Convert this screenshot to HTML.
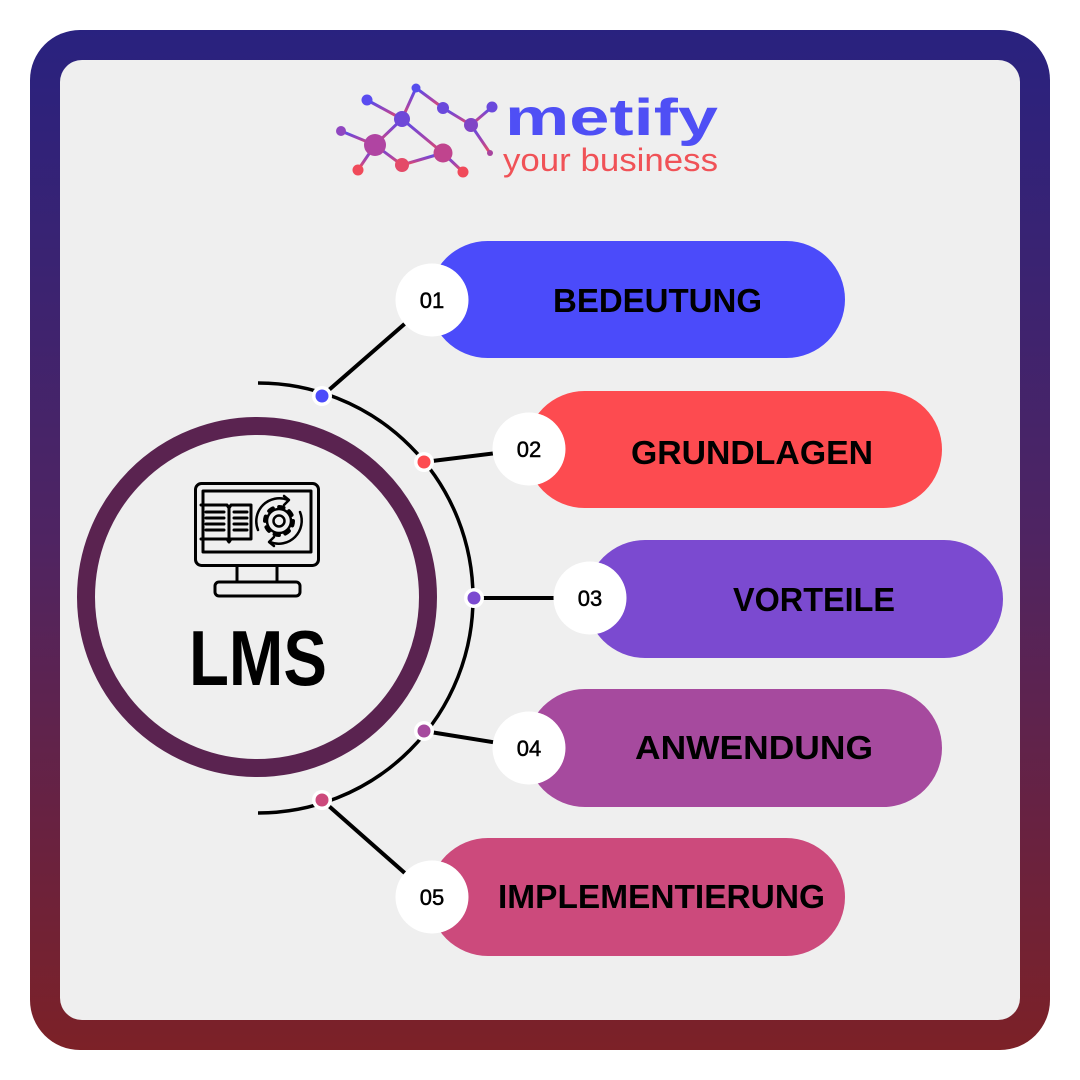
<!DOCTYPE html>
<html><head><meta charset="utf-8"><style>
html,body{margin:0;padding:0;background:#fff;}
svg{display:block;}
</style></head><body>
<svg width="1080" height="1080" viewBox="0 0 1080 1080" xmlns="http://www.w3.org/2000/svg">
<defs>
<linearGradient id="frame" x1="0" y1="0" x2="0" y2="1">
<stop offset="0" stop-color="#29227f"/>
<stop offset="0.5" stop-color="#4f2462"/>
<stop offset="1" stop-color="#7c2127"/>
</linearGradient>
<linearGradient id="logo" x1="0" y1="0" x2="0" y2="1">
<stop offset="0" stop-color="#4d4cf3"/>
<stop offset="0.55" stop-color="#a044b0"/>
<stop offset="1" stop-color="#f04b5a"/>
</linearGradient>
</defs>
<rect x="30" y="30" width="1020" height="1020" rx="50" fill="url(#frame)"/>
<rect x="60" y="60" width="960" height="960" rx="22" fill="#efefef"/>

<!-- logo network -->
<g stroke="url(#logo)" stroke-width="3" fill="none" stroke-linecap="round">
<line x1="367" y1="100" x2="402" y2="119"/>
<line x1="416" y1="88" x2="402" y2="119"/>
<line x1="416" y1="88" x2="443" y2="108"/>
<line x1="402" y1="119" x2="375" y2="145"/>
<line x1="402" y1="119" x2="443" y2="153"/>
<line x1="443" y1="108" x2="443" y2="153"/>
<line x1="443" y1="108" x2="471" y2="125"/>
<line x1="471" y1="125" x2="492" y2="107"/>
<line x1="471" y1="125" x2="490" y2="153"/>
<line x1="341" y1="131" x2="375" y2="145"/>
<line x1="375" y1="145" x2="402" y2="165"/>
<line x1="402" y1="165" x2="443" y2="153"/>
<line x1="443" y1="153" x2="463" y2="172"/>
<line x1="375" y1="145" x2="358" y2="170"/>
</g>
<g>
<circle cx="367" cy="100" r="5.5" fill="#5a4cf0"/>
<circle cx="416" cy="88" r="4.5" fill="#564ded"/>
<circle cx="402" cy="119" r="8" fill="#6e48d8"/>
<circle cx="443" cy="108" r="6" fill="#6a49dc"/>
<circle cx="492" cy="107" r="5.5" fill="#6a49dc"/>
<circle cx="471" cy="125" r="7" fill="#8045c6"/>
<circle cx="490" cy="153" r="3" fill="#a8449e"/>
<circle cx="341" cy="131" r="5" fill="#9046c0"/>
<circle cx="375" cy="145" r="11" fill="#b044a2"/>
<circle cx="443" cy="153" r="9.5" fill="#c0448e"/>
<circle cx="402" cy="165" r="7" fill="#e44a68"/>
<circle cx="358" cy="170" r="5.5" fill="#f04a5a"/>
<circle cx="463" cy="172" r="5.5" fill="#f04a5a"/>
</g>
<text x="505" y="135" font-family="Liberation Sans, sans-serif" font-weight="bold" font-size="52" fill="#4f4ff5" textLength="213" lengthAdjust="spacingAndGlyphs">metify</text>
<text x="503" y="171" font-family="Liberation Sans, sans-serif" font-size="32" fill="#f05257" textLength="215" lengthAdjust="spacingAndGlyphs">your business</text>

<!-- big ring -->
<circle cx="257" cy="597" r="171" fill="none" stroke="#5a2350" stroke-width="18"/>

<!-- arc -->
<path d="M258 383 A215 215 0 0 1 258 813" fill="none" stroke="#000" stroke-width="3.5"/>

<!-- connectors -->
<g stroke="#000" stroke-width="4">
<line x1="322" y1="396" x2="432" y2="300"/>
<line x1="424" y1="462" x2="529" y2="449"/>
<line x1="474" y1="598" x2="590" y2="598"/>
<line x1="424" y1="731" x2="529" y2="748"/>
<line x1="322" y1="800" x2="432" y2="897"/>
</g>

<!-- pills -->
<rect x="429" y="241" width="416" height="117" rx="58.5" fill="#4b4bfa"/>
<rect x="526" y="391" width="416" height="117" rx="58.5" fill="#fd4b50"/>
<rect x="586" y="540" width="417" height="118" rx="59" fill="#7b4ad0"/>
<rect x="526" y="689" width="416" height="118" rx="59" fill="#a64a9e"/>
<rect x="429" y="838" width="416" height="118" rx="59" fill="#cc4a7c"/>

<!-- number circles -->
<g fill="#fff">
<circle cx="432" cy="300" r="36.5"/>
<circle cx="529" cy="449" r="36.5"/>
<circle cx="590" cy="598" r="36.5"/>
<circle cx="529" cy="748" r="36.5"/>
<circle cx="432" cy="897" r="36.5"/>
</g>
<g font-family="Liberation Sans, sans-serif" font-size="22" fill="#000" text-anchor="middle" stroke="#000" stroke-width="0.5">
<text x="432" y="308">01</text>
<text x="529" y="457">02</text>
<text x="590" y="606">03</text>
<text x="529" y="756">04</text>
<text x="432" y="905">05</text>
</g>

<!-- dots -->
<g fill="#fff">
<circle cx="322" cy="396" r="10"/>
<circle cx="424" cy="462" r="10"/>
<circle cx="474" cy="598" r="10"/>
<circle cx="424" cy="731" r="10"/>
<circle cx="322" cy="800" r="10"/>
</g>
<circle cx="322" cy="396" r="6.5" fill="#4b4bfa"/>
<circle cx="424" cy="462" r="6.5" fill="#fd4b50"/>
<circle cx="474" cy="598" r="6.5" fill="#7b4ad0"/>
<circle cx="424" cy="731" r="6.5" fill="#a64a9e"/>
<circle cx="322" cy="800" r="6.5" fill="#cc4a7c"/>

<!-- labels -->
<g font-family="Liberation Sans, sans-serif" font-weight="bold" font-size="33" fill="#000">
<text x="553" y="312" textLength="209" lengthAdjust="spacingAndGlyphs">BEDEUTUNG</text>
<text x="631" y="464" textLength="242" lengthAdjust="spacingAndGlyphs">GRUNDLAGEN</text>
<text x="733" y="611" textLength="162" lengthAdjust="spacingAndGlyphs">VORTEILE</text>
<text x="635" y="759" textLength="238" lengthAdjust="spacingAndGlyphs">ANWENDUNG</text>
<text x="498" y="908" textLength="327" lengthAdjust="spacingAndGlyphs">IMPLEMENTIERUNG</text>
</g>

<!-- LMS -->
<text x="189" y="685" font-family="Liberation Sans, sans-serif" font-weight="bold" font-size="78" fill="#000" textLength="138" lengthAdjust="spacingAndGlyphs">LMS</text>

<!-- monitor icon -->
<g fill="none" stroke="#000" stroke-width="3" stroke-linejoin="round" stroke-linecap="round">
<rect x="195.5" y="483.5" width="123" height="82" rx="6"/>
<rect x="203" y="491" width="108" height="61"/>
<line x1="237" y1="566" x2="237" y2="582"/>
<line x1="277" y1="566" x2="277" y2="582"/>
<rect x="215" y="582" width="85" height="14" rx="4"/>
<!-- book -->
<path d="M201 505 L227 505 L229 508 L231 505 L251 505 L251 539 L231 539 L229 542 L227 539 L201 539"/>
<line x1="229" y1="508" x2="229" y2="540"/>
<g stroke-width="3">
<line x1="206" y1="512" x2="224" y2="512"/>
<line x1="206" y1="518" x2="224" y2="518"/>
<line x1="206" y1="524" x2="224" y2="524"/>
<line x1="206" y1="530" x2="224" y2="530"/>
<line x1="234" y1="512" x2="247" y2="512"/>
<line x1="234" y1="518" x2="247" y2="518"/>
<line x1="234" y1="524" x2="247" y2="524"/>
<line x1="234" y1="530" x2="247" y2="530"/>
</g>
<!-- gear -->
<circle cx="279" cy="521" r="12" stroke-width="2.5"/>
<circle cx="279" cy="521" r="5.5" stroke-width="2.5"/>
<circle cx="279" cy="521" r="14" stroke-width="4" stroke-dasharray="4.5 6.5"/>
<!-- arrows around -->
<path d="M258 530 A23 23 0 0 1 288 500" stroke-width="2.5"/>
<path d="M300 512 A23 23 0 0 1 270 542" stroke-width="2.5"/>
<path d="M284 496 L289 500 L284 505" stroke-width="2.5"/>
<path d="M274 537 L269 542 L274 546" stroke-width="2.5"/>
</g>
</svg>
</body></html>
